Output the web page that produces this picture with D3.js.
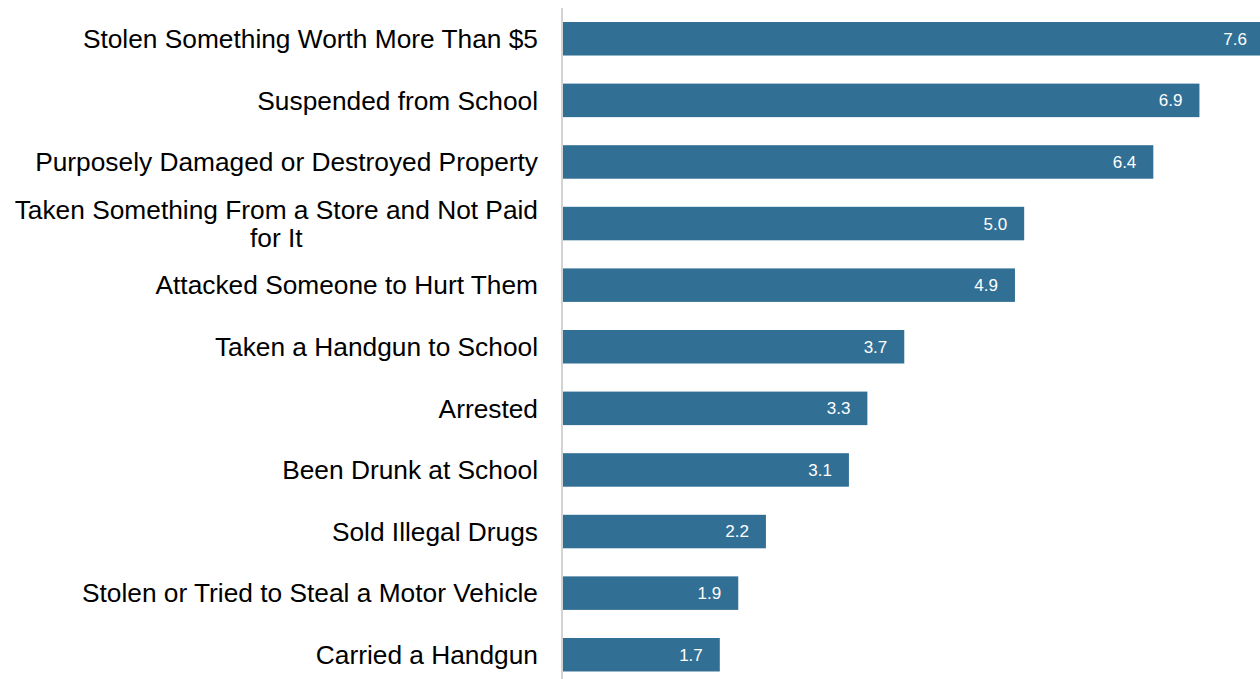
<!DOCTYPE html>
<html>
<head>
<meta charset="utf-8">
<script src="https://cdn.jsdelivr.net/npm/d3@7"></script>
<style>
  html, body { margin: 0; padding: 0; background: #fff; }
  svg { display: block; font-family: "Liberation Sans", Arial, sans-serif; }
</style>
</head>
<body>
<div id="chart"></div>
<script>
const categories = [
  'Stolen Something Worth More Than $5',
  'Suspended from School',
  'Purposely Damaged or Destroyed Property',
  'Taken Something From a Store and Not Paid|for It',
  'Attacked Someone to Hurt Them',
  'Taken a Handgun to School',
  'Arrested',
  'Been Drunk at School',
  'Sold Illegal Drugs',
  'Stolen or Tried to Steal a Motor Vehicle',
  'Carried a Handgun'
];
const values = [7.6, 6.9, 6.4, 5.0, 4.9, 3.7, 3.3, 3.1, 2.2, 1.9, 1.7];

const width = 1260;
const height = 679;
const margin = { top: 14.5, bottom: 0, left: 563, right: -4 };

const svg = d3.select('#chart')
  .append('svg')
  .attr('width', width)
  .attr('height', height);

const x = d3.scaleLinear()
  .domain([0, 7.6])
  .range([margin.left, width - margin.right]);

const y = d3.scaleBand()
  .domain(d3.range(categories.length))
  .range([margin.top, height - margin.bottom])
  .paddingInner(0.456)
  .paddingOuter(0.122);

svg.append('g')
  .attr('fill', '#326f95')
  .selectAll('rect')
  .data(values)
  .join('rect')
    .attr('x', x(0))
    .attr('y', (d, i) => y(i))
    .attr('width', d => x(d) - x(0))
    .attr('height', y.bandwidth());

svg.append('g')
  .attr('fill', '#fff')
  .attr('font-size', '17px')
  .attr('text-anchor', 'end')
  .selectAll('text')
  .data(values)
  .join('text')
    .attr('x', d => x(d) - 17)
    .attr('y', (d, i) => y(i) + y.bandwidth() / 2)
    .attr('dy', '0.35em')
    .text(d => d.toFixed(1));

// category axis line
svg.append('line')
  .attr('x1', x(0) - 1).attr('x2', x(0) - 1)
  .attr('y1', 8).attr('y2', height)
  .attr('stroke', '#d3d3d3')
  .attr('stroke-width', 2);

const labels = svg.append('g')
  .attr('font-size', '26.3px')
  .attr('fill', '#000');

categories.forEach((c, i) => {
  const lines = c.split('|');
  const cy = y(i) + y.bandwidth() / 2;
  const lh = 28;
  const t0 = cy - (lines.length - 1) * lh / 2;
  let firstW = 0;
  lines.forEach((ln, j) => {
    const t = labels.append('text')
      .attr('x', 538)
      .attr('y', t0 + j * lh)
      .attr('dy', '0.35em')
      .attr('text-anchor', 'end')
      .text(ln);
    if (j === 0) firstW = t.node().getComputedTextLength();
    else t.attr('text-anchor', 'middle').attr('x', 538 - firstW / 2);
  });
});
</script>
</body>
</html>
